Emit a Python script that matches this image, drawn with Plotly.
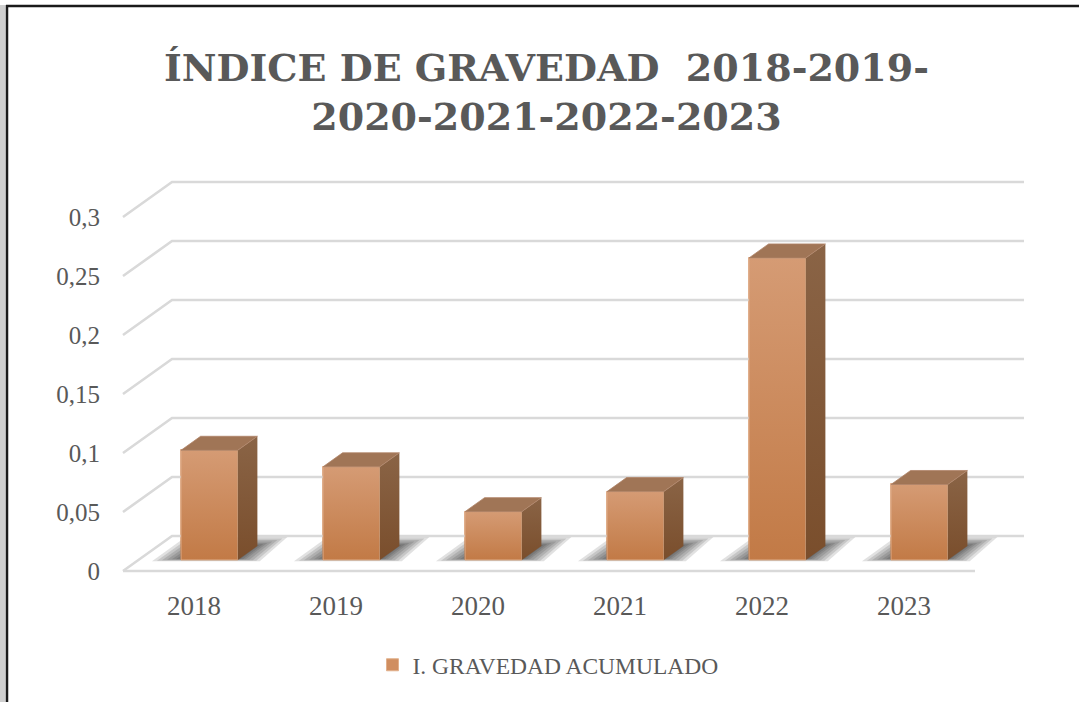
import plotly.graph_objects as go

# ---------------- data ----------------
years = ["2018", "2019", "2020", "2021", "2022", "2023"]
values = [0.093, 0.079, 0.041, 0.058, 0.256, 0.064]
tick_values = [0, 0.05, 0.1, 0.15, 0.2, 0.25, 0.3]
tick_labels = ["0", "0,05", "0,1", "0,15", "0,2", "0,25", "0,3"]
series_name = "I. GRAVEDAD ACUMULADO"
title_lines = ["ÍNDICE DE GRAVEDAD  2018-2019-", "2020-2021-2022-2023"]

# ---------------- geometry (pixels of the 1079x702 canvas) ----------------
W, H = 1079, 702
X0PX, Y0PX = 123, 571          # pixel of front-floor origin
PX_X, PX_Y = 142.0, 1180.0     # pixels per category / per value unit
PL, PR, PT, PB = 113, 1027, 165, 575   # plot area in pixels
DX, DY = 49 / PX_X, 35 / PX_Y  # depth offset of the back wall
F0, F1 = 0.314, 0.714          # bar front / back depth fractions
BW = 0.4                       # bar width (category units)
n = len(years)

XR = [(PL - X0PX) / PX_X, (PR - X0PX) / PX_X]
YR = [(Y0PX - PB) / PX_Y, (Y0PX - PT) / PX_Y]


def pxp(x):
    return (x - PL) / (PR - PL)


def pyp(y):
    return (PB - y) / (PB - PT)


def P(x, y, f):
    return x + f * DX, y + f * DY


def poly(pts):
    return [p[0] for p in pts] + [pts[0][0]], [p[1] for p in pts] + [pts[0][1]]


TXT = "#595959"
GRID = "#d9d9d9"
fig = go.Figure()

# gridlines: diagonal on side wall + back wall lines + floor front edge
gx, gy = [], []
for v in tick_values:
    gx += [0, DX, n + DX, None]
    gy += [v, v + DY, v + DY, None]
gx += [0, n, None]
gy += [0, 0, None]
fig.add_trace(go.Scatter(x=gx, y=gy, mode="lines", line=dict(color=GRID, width=2.6),
                         hoverinfo="skip", showlegend=False))

# soft shadows on the floor (stacked translucent layers)
shadow_layers = [(30, 2, 9), (25, 1.5, 7.5), (20, 1, 6), (15, 0.5, 4.5),
                 (10, 0, 3), (6, 0, 2), (2, 0, 1)]
for i, v in enumerate(values):
    c = i + 0.5
    for ex, eyf, eyb in shadow_layers:
        exu = ex / PX_X
        l, r = c - BW / 2 - exu, c + BW / 2 + exu
        yf, yb = -eyf / PX_Y, eyb / PX_Y
        xs, ys = poly([P(l, yf, F0 + 0.02), P(r - exu * 0.3, yf, F0 + 0.02),
                       P(r, yb, F1), P(l + exu * 0.5, yb, F1)])
        fig.add_trace(go.Scatter(x=xs, y=ys, mode="lines", fill="toself", line=dict(width=0),
                                 fillcolor="rgba(20,20,20,0.13)", hoverinfo="skip",
                                 showlegend=False))

# front faces as bars
fig.add_trace(go.Bar(x=[i + 0.5 + F0 * DX for i in range(n)], y=values,
                     base=[F0 * DY] * n, width=BW, name=series_name,
                     marker=dict(color="#d08e60", line=dict(color="#e2b08c", width=1)),
                     hovertext=years))

for i, v in enumerate(values):
    c = i + 0.5
    l, r = c - BW / 2, c + BW / 2
    # front gradient overlay
    xs, ys = poly([P(l, 0, F0), P(r, 0, F0), P(r, v, F0), P(l, v, F0)])
    fig.add_trace(go.Scatter(x=xs, y=ys, mode="lines", fill="toself",
                             line=dict(color="#deae8a", width=1),
                             fillgradient=dict(type="vertical",
                                               colorscale=[[0, "#c27a46"], [1, "#d59b74"]]),
                             hoverinfo="skip", showlegend=False))
    # side face
    xs, ys = poly([P(r, 0, F0), P(r, v, F0), P(r, v, F1), P(r, 0, F1)])
    fig.add_trace(go.Scatter(x=xs, y=ys, mode="lines", fill="toself", line=dict(width=0),
                             fillgradient=dict(type="vertical",
                                               colorscale=[[0, "#7a4e2c"], [1, "#8a6446"]]),
                             hoverinfo="skip", showlegend=False))
    # top face
    xs, ys = poly([P(l, v, F0), P(r, v, F0), P(r, v, F1), P(l, v, F1)])
    fig.add_trace(go.Scatter(x=xs, y=ys, mode="lines", fill="toself",
                             line=dict(color="#b08468", width=0.8),
                             fillcolor="#a07556", hoverinfo="skip", showlegend=False))

# title
fig.add_annotation(text="<br>".join(title_lines), x=pxp(546), y=pyp(92), xref="paper",
                   yref="paper", xanchor="center", yanchor="middle", showarrow=False,
                   align="center",
                   font=dict(family="DejaVu Serif", size=38, color=TXT, weight="bold"))

# frame: left and top border
fig.add_shape(type="rect", xref="paper", yref="paper", x0=pxp(0), x1=pxp(5.5),
              y0=pyp(H), y1=pyp(5), fillcolor="#cfcfcf", line=dict(width=0), layer="above")
fig.add_shape(type="line", xref="paper", yref="paper", x0=pxp(7), x1=pxp(7),
              y0=pyp(H), y1=pyp(5), line=dict(color="#1a1a1a", width=2.5), layer="above")
fig.add_shape(type="line", xref="paper", yref="paper", x0=pxp(6), x1=pxp(W),
              y0=pyp(6), y1=pyp(6), line=dict(color="#1a1a1a", width=2.5), layer="above")

fig.update_layout(
    width=W, height=H,
    margin=dict(l=PL, r=W - PR, t=PT, b=H - PB, pad=0),
    paper_bgcolor="white", plot_bgcolor="white",
    showlegend=True,
    legend=dict(orientation="h", x=pxp(548), y=pyp(665), xanchor="center", yanchor="middle",
                font=dict(family="Liberation Serif", size=23.5, color=TXT)),
    xaxis=dict(range=XR, showgrid=False, zeroline=False, showline=False,
               tickvals=[i + 0.5 for i in range(n)], ticktext=years,
               tickfont=dict(family="Liberation Serif", size=27, color=TXT),
               ticklabelstandoff=12, fixedrange=True),
    yaxis=dict(range=YR, showgrid=False, zeroline=False, showline=False,
               tickvals=tick_values, ticktext=tick_labels,
               tickfont=dict(family="Liberation Serif", size=25, color=TXT),
               ticklabelstandoff=12, fixedrange=True),
    bargap=0,
)

fig.write_html("out.html", config={"displayModeBar": False},
               post_script="document.body.style.margin='0';")
